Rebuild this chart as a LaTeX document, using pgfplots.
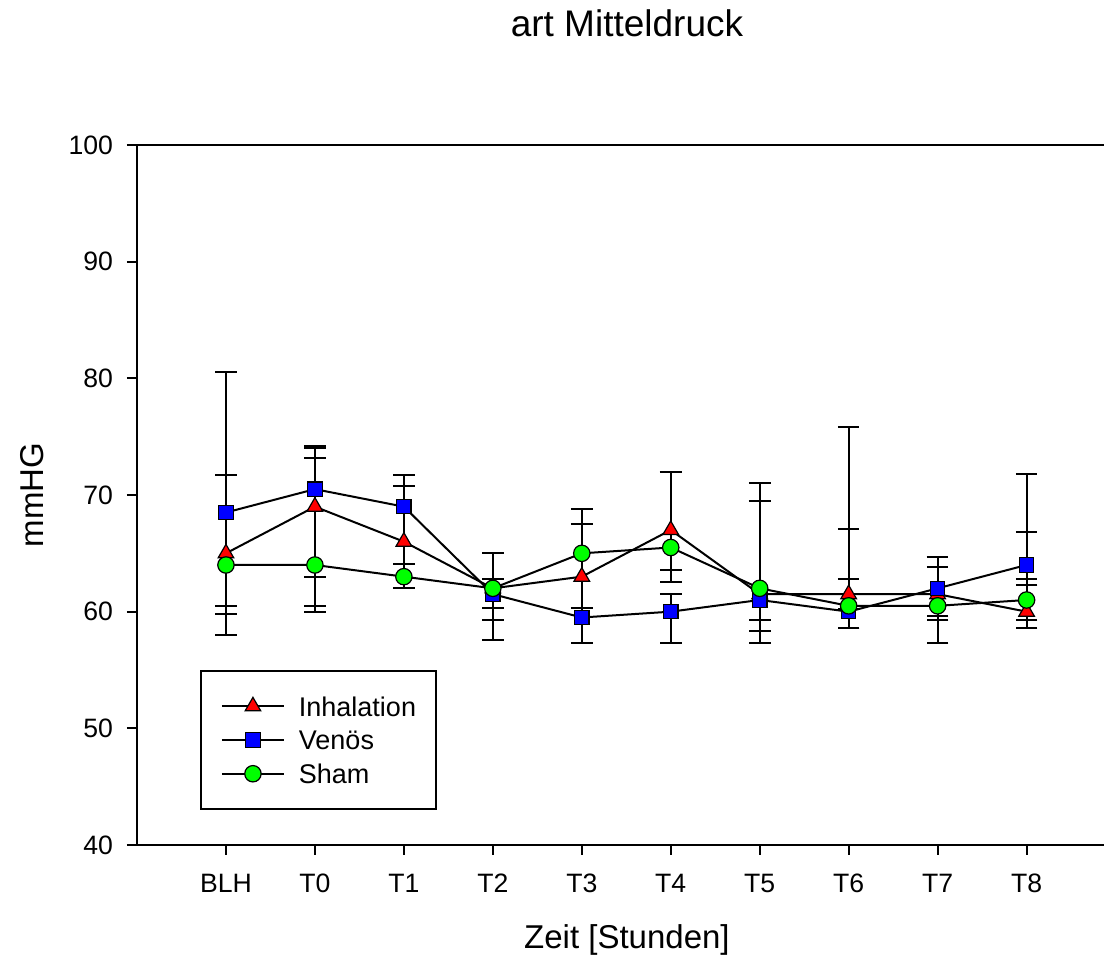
\documentclass[border=0pt]{standalone}
\usepackage{fontspec}
\setmainfont{Liberation Sans}
\usepackage{pgfplots}
\pgfplotsset{compat=1.18}
\usepackage{pgfplotstable}

\pgfplotstableread{
x y ep em
0 65 6.7 7.0
1 69 5.0 8.5
2 66 4.8 4.0
3 62 3.0 2.7
4 63 5.8 2.7
5 67 5.0 3.4
6 61.5 9.5 2.2
7 61.5 14.3 1.3
8 61.5 3.2 2.2
9 60 2.8 1.4
}\inh

\pgfplotstableread{
x y ep em
0 68.5 12.0 8.0
1 70.5 3.7 10.5
2 69 2.7 4.9
3 61.5 1.3 3.9
4 59.5 0.8 2.2
5 60 1.5 2.7
6 61 8.5 3.7
7 60 2.8 1.4
8 62 1.8 4.7
9 64 7.8 1.7
}\ven

\pgfplotstableread{
x y ep em
0 64 7.7 4.2
1 64 9.2 1.0
2 63 7.8 1.0
3 62 3.0 1.7
4 65 2.5 4.7
5 65.5 6.5 3.0
6 62 7.5 3.7
7 60.5 6.6 1.9
8 60.5 4.2 0.9
9 61 5.8 1.7
}\sham

\begin{document}
\begin{tikzpicture}
\begin{axis}[
  scale only axis, width=483.5pt, height=350pt,
  xmin=-1, xmax=9.87, ymin=40, ymax=100,
  clip=false,
  axis lines=left,
  axis line style={-, line width=1pt, black},
  xtick={0,1,2,3,4,5,6,7,8,9},
  xticklabels={BLH,T0,T1,T2,T3,T4,T5,T6,T7,T8},
  ytick={40,50,60,70,80,90,100},
  tick align=outside, major tick length=5pt,
  tick style={line width=1pt, black},
  /pgf/number format/assume math mode=true,
  ticklabel style={font=\fontsize{13.3}{15}\selectfont},
  xticklabel style={yshift=-6pt},
  yticklabel style={xshift=-3.5pt},
  xlabel={Zeit [Stunden]}, ylabel={mmHG},
  label style={font=\fontsize{16.5}{19}\selectfont},
  xlabel style={at={(axis description cs:0.5067,-0.1357)}, anchor=center},
  ylabel style={at={(axis description cs:-0.1086,0.5)}, anchor=center},
  legend style={at={(axis description cs:0.0651,0.05)}, anchor=south west,
    draw=black, line width=1pt, font=\fontsize{13.5}{16}\selectfont,
    inner xsep=10pt, inner ysep=9.2pt, column sep=7pt, row sep=0pt,
    nodes={inner xsep=0pt, inner ysep=3.575pt, text height=9.7pt, text depth=0pt}},
  legend cell align=left,
  legend image code/.code={
    \draw[#1, line width=1pt] (0pt,0pt) -- (31pt,0pt);
    \draw[#1, line width=0.6pt] plot coordinates {(15.5pt,0pt)};
  },
]
\addplot[black, line width=1pt, mark=triangle*, mark size=4.5pt,
  mark options={fill=red, draw=black, line width=0.6pt},
  error bars/.cd, y dir=both, y explicit,
  error bar style={black, line width=1pt},
  error mark options={rotate=90, mark size=5.4pt, line width=1pt, black}]
  table[x=x, y=y, y error plus=ep, y error minus=em]{\inh};
\addlegendentry{Inhalation}
\addplot[black, line width=1pt, mark=square*, mark size=3.6pt,
  mark options={fill=blue, draw=black, line width=0.6pt},
  error bars/.cd, y dir=both, y explicit,
  error bar style={black, line width=1pt},
  error mark options={rotate=90, mark size=5.4pt, line width=1pt, black}]
  table[x=x, y=y, y error plus=ep, y error minus=em]{\ven};
\addlegendentry{Venös}
\addplot[black, line width=1pt, mark=*, mark size=4.1pt,
  mark options={fill=green, draw=black, line width=0.6pt},
  error bars/.cd, y dir=both, y explicit,
  error bar style={black, line width=1pt},
  error mark options={rotate=90, mark size=5.4pt, line width=1pt, black}]
  table[x=x, y=y, y error plus=ep, y error minus=em]{\sham};
\addlegendentry{Sham}
\draw[line width=1pt, black] (rel axis cs:0,1) -- (rel axis cs:1,1);
\node[anchor=center, inner sep=0pt, font=\fontsize{18.5}{22}\selectfont]
  at (rel axis cs:0.5067,1.1736) {art Mitteldruck};
\end{axis}
\pgfresetboundingbox
\path (-68.5pt,-56.5pt) rectangle (483.5pt,422.5pt);
\end{tikzpicture}
\end{document}
